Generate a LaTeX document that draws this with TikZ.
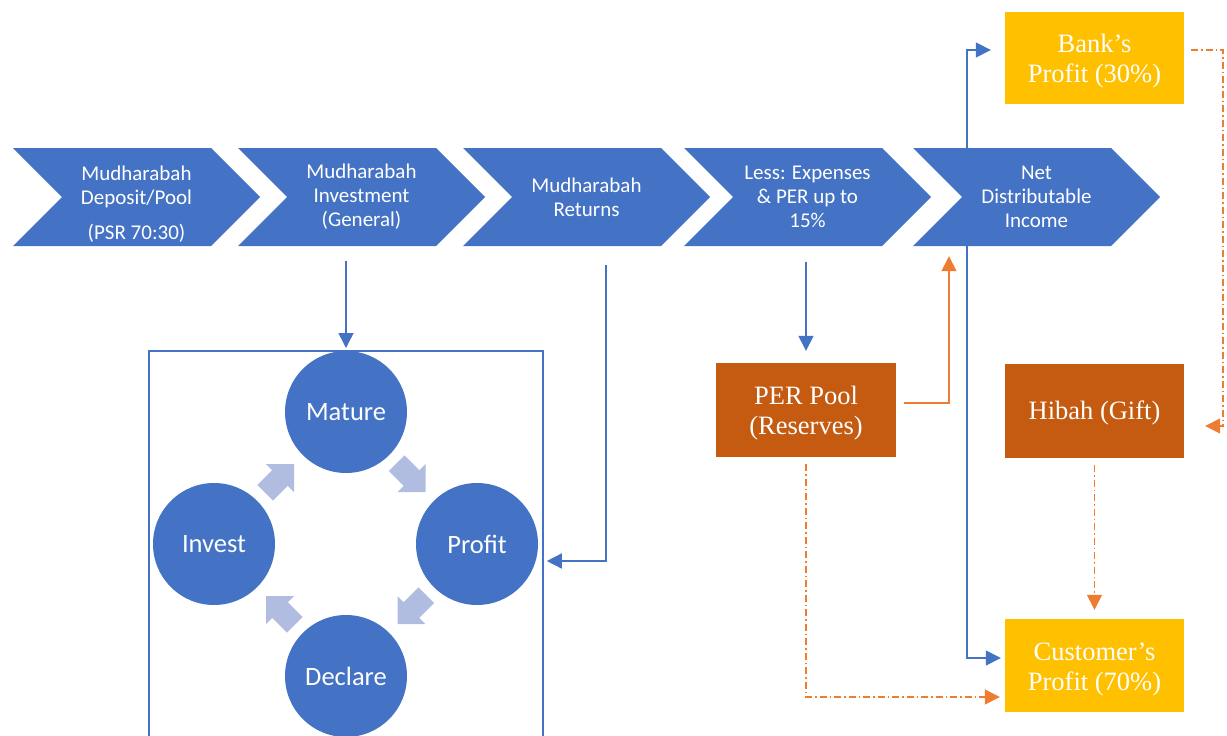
\documentclass[tikz,border=0pt]{standalone}
\usepackage{fontspec}
\setmainfont{Liberation Serif}
\newfontfamily\calib{Carlito}
\usetikzlibrary{arrows.meta,calc}
\definecolor{cblue}{HTML}{4472C4}
\definecolor{corange}{HTML}{ED7D31}
\definecolor{cgold}{HTML}{FFC000}
\definecolor{cdark}{HTML}{C55A11}
\definecolor{clight}{HTML}{B0BDE1}
\newcommand\cycarrow[2]{%
  \fill[clight, shift={(#1)}, rotate=#2, scale=1.1] (-19pt,-10pt) -- (0pt,-10pt) -- (0pt,-18pt) -- (18pt,0pt) -- (0pt,18pt) -- (0pt,10pt) -- (-19pt,10pt) -- cycle;}
\begin{document}
\begin{tikzpicture}[x=1pt,y=-1pt,
  chev/.style={minimum width=247pt, minimum height=98pt, inner sep=0pt, align=center,
    text=white, font=\calib\fontsize{21}{24}\selectfont,
    path picture={\fill[cblue] (path picture bounding box.north west) -- ++(198pt,0pt) -- ++(49pt,-49pt)
      -- ++(-49pt,-49pt) -- (path picture bounding box.south west) -- ++(49pt,49pt) -- cycle;}},
  ctext/.style={inner sep=0pt, align=center, text=white, font=\calib\fontsize{21}{24}\selectfont},
  rbox/.style={minimum width=179pt, minimum height=92pt, inner sep=0pt},
  btext/.style={inner sep=0pt, align=center, text=white, font=\fontsize{26.5}{30}\selectfont},
  circ/.style={circle, fill=cblue, minimum size=122pt, inner sep=0pt, text=white,
    font=\calib\fontsize{26.5}{30}\selectfont},
  ba/.style={draw=cblue, line width=1.5pt, -{Triangle[length=15pt,width=15pt]}},
  oa/.style={draw=corange, line width=1.5pt, -{Triangle[length=15pt,width=15pt]}},
  od/.style={oa, dash pattern=on 7pt off 3pt on 1.5pt off 3pt}]
\useasboundingbox (0,0) rectangle (1227,736);
\clip (0,0) rectangle (1227,736);

% chevrons
\node[chev] (c1) at (136.5,197) {};
\node[ctext] at ([yshift=-7.5pt]c1.center) {Mudharabah\\Deposit/Pool\\[11pt](PSR 70:30)};
\node[chev] (c2) at (361.5,197) {Mudharabah\\Investment\\(General)};
\node[chev] (c3) at (586.5,197) {Mudharabah\\Returns};
\node[chev] (c4) at (807.5,197) {Less: Expenses\\\& PER up to\\15\%};
\node[chev] (c5) at (1036.5,197) {Net\\Distributable\\Income};

% boxes
\node[rbox, fill=cgold] (bank) at (1094.5,58) {};
\node[btext] at ([yshift=-3.5pt]bank.center) {Bank’s\\Profit (30\%)};
\node[rbox, fill=cdark, minimum height=94pt] (hib) at (1094.5,411) {};
\node[btext] at ([yshift=-2pt]hib.center) {Hibah (Gift)};
\node[rbox, fill=cgold, minimum height=93pt] (cust) at (1094.5,665.5) {};
\node[btext] at ([yshift=-4pt]cust.center) {Customer’s\\Profit (70\%)};
\node[rbox, fill=cdark, minimum width=180pt, minimum height=94pt] (per) at (806,410) {};
\node[btext] at ([yshift=-3pt]per.center) {PER Pool\\(Reserves)};

% cycle frame and circles
\node[draw=cblue, line width=1.8pt, minimum width=394pt, minimum height=420pt, anchor=north west, inner sep=0pt] (cyc) at (148,350) {};
\node[circ] (mat) at (346,412) {Mature};
\node[circ] (prof) at (477,544) {Profit};
\node[circ] (dec) at (346,676) {Declare};
\node[circ] (inv) at (214,544) {Invest};

\cycarrow{$(mat)!0.5!(prof)$}{-45}
\cycarrow{$(prof)!0.5!(dec)$}{-135}
\cycarrow{$(dec)!0.5!(inv)$}{135}
\cycarrow{$(inv)!0.5!(mat)$}{45}

% connectors
\coordinate (ret) at (606,561);
\coordinate (oc) at (949,0);
\coordinate (bc) at (967,0);
\coordinate (rc) at (1223,0);
\coordinate (hibin) at ([yshift=-15pt]hib.east);
\coordinate (custin) at ([yshift=-31.5pt]cust.west);

\draw[ba, shorten <=15pt, shorten >=2pt] (c2.south -| mat) -- (cyc.north -| mat);
\draw[ba, shorten <=19pt, shorten >=3pt] (c3.south -| ret) |- (cyc.east |- ret);
\draw[ba, shorten <=16pt, shorten >=12pt] (c4.south -| per) -- (per.north);
\draw[oa, shorten <=8pt, shorten >=10pt] ([yshift=7pt]per.east) -| (oc |- c5.south);
\draw[ba, shorten >=14pt] (bc |- c5.north) |- ([yshift=8pt]bank.west);
\draw[ba, shorten >=4pt] (bc |- c5.south) |- ([yshift=7.5pt]cust.west);
\draw[od, shorten <=7pt, shorten >=21pt] ([yshift=8pt]bank.east) -| (rc |- hibin) -- (hibin);
\draw[od, shorten <=7pt, shorten >=9pt] (hib.south) -- (cust.north);
\draw[od, shorten <=7pt, shorten >=5pt] (per.south) |- (custin);
\end{tikzpicture}
\end{document}
